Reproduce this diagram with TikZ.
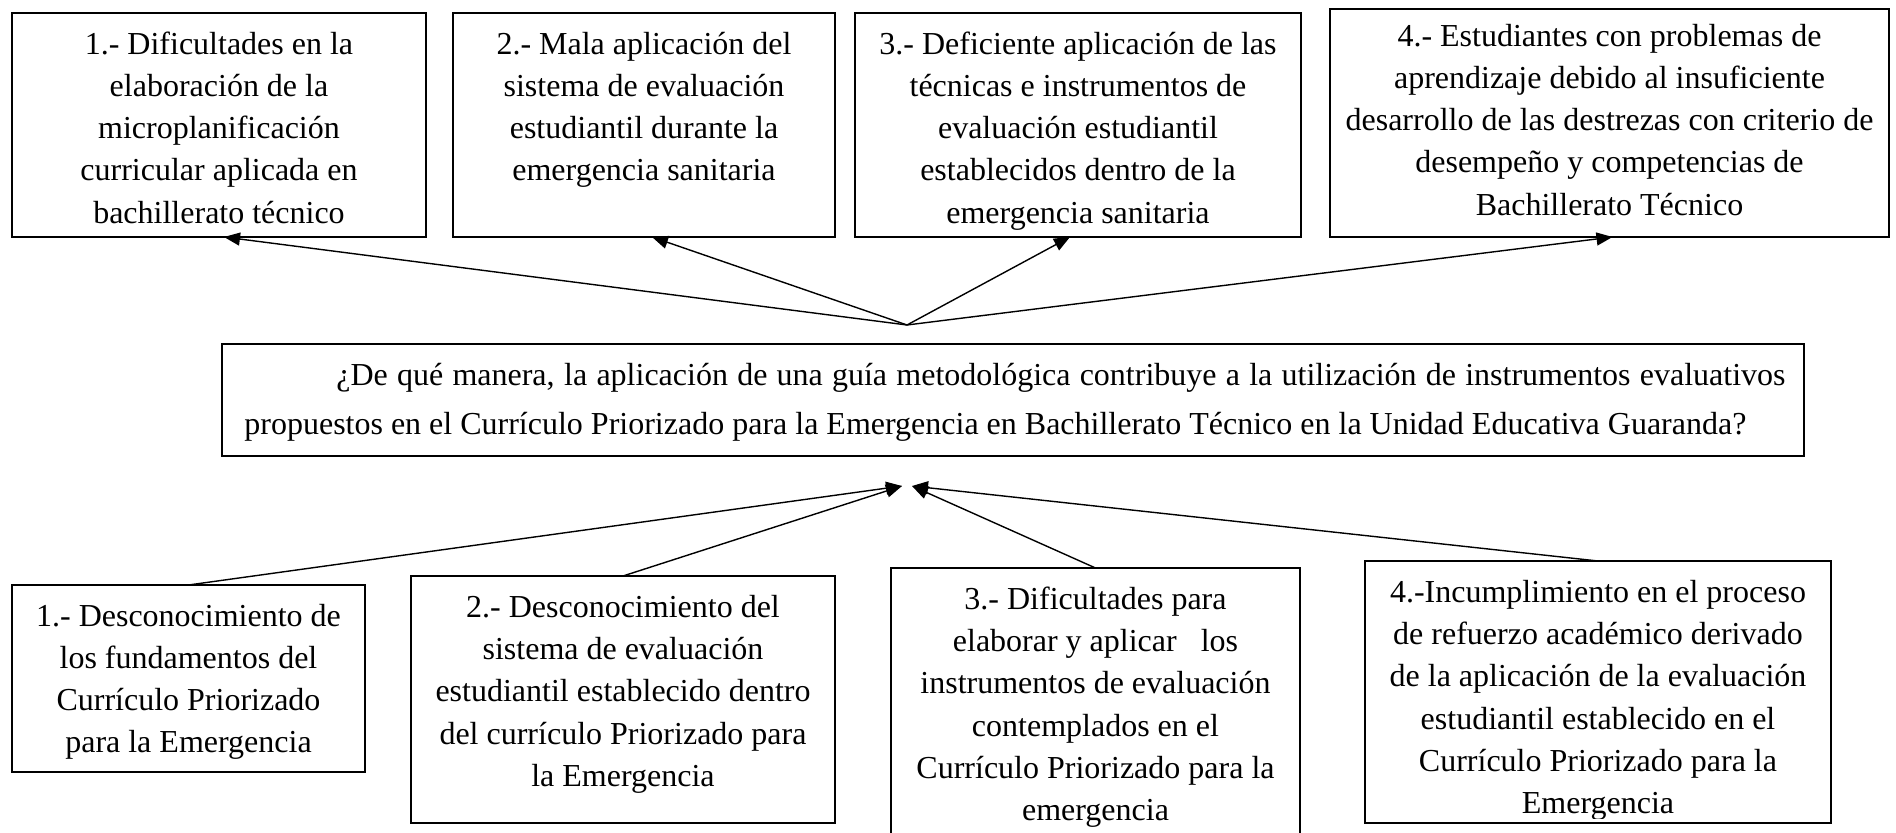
\documentclass[tikz,border=0pt]{standalone}
\usepackage{fontspec}
\setmainfont{Liberation Serif}
\usetikzlibrary{arrows.meta}
\newcommand{\toprule}{\rule{0pt}{14.7pt}}
\begin{document}
\begin{tikzpicture}[x=0.5pt,y=-0.5pt,
  box/.style={draw=black, line width=0.7pt, inner sep=0pt, outer sep=0pt, anchor=north west},
  txt/.style={inner sep=0pt, align=center, anchor=north, font=\fontsize{16pt}{21.1pt}\selectfont},
  ctxt/.style={inner sep=0pt, align=left, anchor=north west, font=\fontsize{16pt}{24.5pt}\selectfont},
  arr/.style={line width=0.7pt, -{Triangle[length=8pt,width=6.5pt]}}]
\clip (0,0) rectangle (1896,833);
\fill[white] (0,0) rectangle (1896,833);
% top boxes
\node[box, minimum width=207pt, minimum height=112pt] (T1) at (12,13) {};
\node[box, minimum width=191pt, minimum height=112pt] (T2) at (453,13) {};
\node[box, minimum width=223pt, minimum height=112pt] (T3) at (855,13) {};
\node[box, line width=0.9pt, minimum width=279.5pt, minimum height=114pt] (T4) at (1330,9) {};
\node[txt] (T1t) at ([yshift=-5.8pt]T1.north) {\toprule 1.- Dificultades en la\\ elaboración de la\\ microplanificación\\ curricular aplicada en\\ bachillerato técnico};
\node[txt] (T2t) at ([yshift=-5.8pt]T2.north) {\toprule 2.- Mala aplicación del\\ sistema de evaluación\\ estudiantil durante la\\ emergencia sanitaria};
\node[txt] (T3t) at ([yshift=-5.8pt]T3.north) {\toprule 3.- Deficiente aplicación de las\\ técnicas e instrumentos de\\ evaluación estudiantil\\ establecidos dentro de la\\ emergencia sanitaria};
\node[txt] (T4t) at ([yshift=-3.8pt]T4.north) {\toprule 4.- Estudiantes con problemas de\\ aprendizaje debido al insuficiente\\ desarrollo de las destrezas con criterio de\\ desempeño y competencias de\\ Bachillerato Técnico};
% central box
\node[box, line width=0.9pt, minimum width=791pt, minimum height=56pt] (C) at (222,344) {};
\node[ctxt] (Ct) at ([xshift=11pt,yshift=-2.75pt]C.north west) {\rule{0pt}{17.75pt}\hbox to 770.5pt{\hspace*{46pt}¿De qué manera, la aplicación de una guía metodológica contribuye a la utilización de instrumentos evaluativos}\\ propuestos en el Currículo Priorizado para la Emergencia en Bachillerato Técnico en la Unidad Educativa Guaranda?};
% bottom boxes
\node[box, minimum width=176.5pt, minimum height=93.5pt] (B1) at (12,585) {};
\node[box, minimum width=212pt, minimum height=123.5pt] (B2) at (411,576) {};
\node[box, minimum width=204.5pt, minimum height=145pt] (B3) at (891,568) {};
\node[box, minimum width=233pt, minimum height=131pt] (B4) at (1365,561) {};
\node[txt] (B1t) at ([yshift=-5.8pt]B1.north) {\toprule 1.- Desconocimiento de\\ los fundamentos del\\ Currículo Priorizado\\ para la Emergencia};
\node[txt] (B2t) at ([yshift=-5.8pt]B2.north) {\toprule 2.- Desconocimiento del\\ sistema de evaluación\\ estudiantil establecido dentro\\ del currículo Priorizado para\\ la Emergencia};
\node[txt] (B3t) at ([yshift=-5.8pt]B3.north) {\toprule 3.- Dificultades para\\ elaborar y aplicar\ \ \ los\\ instrumentos de evaluación\\ contemplados en el\\ Currículo Priorizado para la\\ emergencia};
\begin{scope}
\clip ([yshift=-1pt]B4.north west) rectangle ([yshift=2.5pt]B4.south east);
\node[txt] (B4t) at ([yshift=-5.8pt]B4.north) {\toprule 4.-Incumplimiento en el proceso\\ de refuerzo académico derivado\\ de la aplicación de la evaluación\\ estudiantil establecido en el\\ Currículo Priorizado para la\\ Emergencia};
\end{scope}
% connectors
\coordinate (c1) at (907,325);
\coordinate (c2) at (902,486);
\coordinate (c3) at (912,486);
\draw[arr] (c1) -- ([xshift=2.5pt]T1.south);
\draw[arr] (c1) -- ([xshift=4pt]T2.south);
\draw[arr] (c1) -- ([xshift=-4pt]T3.south);
\draw[arr] (c1) -- ([xshift=1.5pt]T4.south);
\draw[arr] (B1.north) -- (c2);
\draw[arr] (B2.north) -- (c2);
\draw[arr] (B3.north) -- (c3);
\draw[arr] (B4.north) -- (c3);
\end{tikzpicture}
\end{document}
